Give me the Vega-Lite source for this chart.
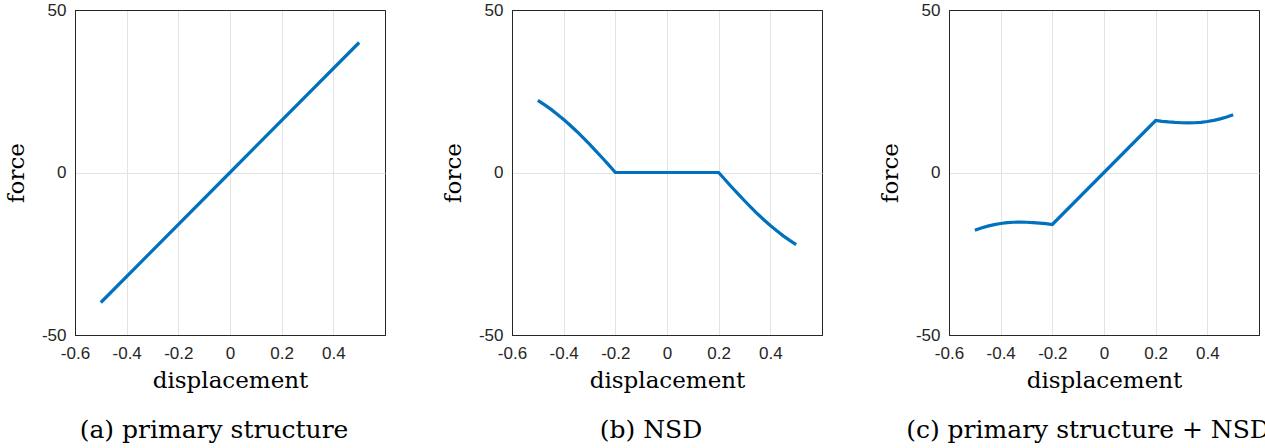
{
  "$schema": "https://vega.github.io/schema/vega-lite/v6.json",
  "autosize": {"type": "pad"},
  "padding": {"left": 4, "top": 0, "right": 0, "bottom": 0},
  "background": "white",
  "spacing": 127,
  "bounds": "flush",
  "config": {
    "view": {"stroke": "#262626", "strokeWidth": 1},
    "axis": {
      "grid": true,
      "gridWidth": 1,
      "domain": true,
      "domainColor": "#262626",
      "domainWidth": 1,
      "ticks": false,
      "tickSize": 0,
      "labelFont": "Liberation Sans",
      "labelFontSize": 17,
      "labelColor": "#262626",
      "labelFlush": false,
      "labelOverlap": false,
      "titleFont": "DejaVu Serif",
      "titleFontSize": 23,
      "titleFontWeight": "normal",
      "titleColor": "#000000"
    },
    "axisX": {"labelPadding": 10, "titlePadding": 8},
    "axisY": {"labelPadding": 9, "titlePadding": 13},
    "title": {"font": "DejaVu Serif", "fontSize": 25, "fontWeight": "normal", "color": "#000000", "anchor": "middle"}
  },
  "datasets": {
    "a": [
      {"x": -0.5, "y": -40},
      {"x": 0, "y": 0},
      {"x": 0.5, "y": 40}
    ],
    "b": [
      {"x": -0.5, "y": 22.2},
      {"x": -0.475, "y": 20.9},
      {"x": -0.45, "y": 19.5},
      {"x": -0.425, "y": 17.95},
      {"x": -0.4, "y": 16.3},
      {"x": -0.375, "y": 14.55},
      {"x": -0.35, "y": 12.7},
      {"x": -0.325, "y": 10.75},
      {"x": -0.3, "y": 8.7},
      {"x": -0.275, "y": 6.6},
      {"x": -0.25, "y": 4.45},
      {"x": -0.225, "y": 2.25},
      {"x": -0.2, "y": 0},
      {"x": 0.2, "y": 0},
      {"x": 0.225, "y": -2.25},
      {"x": 0.25, "y": -4.45},
      {"x": 0.275, "y": -6.6},
      {"x": 0.3, "y": -8.7},
      {"x": 0.325, "y": -10.75},
      {"x": 0.35, "y": -12.7},
      {"x": 0.375, "y": -14.55},
      {"x": 0.4, "y": -16.3},
      {"x": 0.425, "y": -17.95},
      {"x": 0.45, "y": -19.5},
      {"x": 0.475, "y": -20.9},
      {"x": 0.5, "y": -22.2}
    ],
    "c": [
      {"x": -0.5, "y": -17.8},
      {"x": -0.475, "y": -17.1},
      {"x": -0.45, "y": -16.5},
      {"x": -0.425, "y": -16.05},
      {"x": -0.4, "y": -15.7},
      {"x": -0.375, "y": -15.45},
      {"x": -0.35, "y": -15.3},
      {"x": -0.325, "y": -15.25},
      {"x": -0.3, "y": -15.3},
      {"x": -0.275, "y": -15.4},
      {"x": -0.25, "y": -15.55},
      {"x": -0.225, "y": -15.75},
      {"x": -0.2, "y": -16.0},
      {"x": 0, "y": 0},
      {"x": 0.2, "y": 16.0},
      {"x": 0.225, "y": 15.75},
      {"x": 0.25, "y": 15.55},
      {"x": 0.275, "y": 15.4},
      {"x": 0.3, "y": 15.3},
      {"x": 0.325, "y": 15.25},
      {"x": 0.35, "y": 15.3},
      {"x": 0.375, "y": 15.45},
      {"x": 0.4, "y": 15.7},
      {"x": 0.425, "y": 16.05},
      {"x": 0.45, "y": 16.5},
      {"x": 0.475, "y": 17.1},
      {"x": 0.5, "y": 17.8}
    ]
  },
  "hconcat": [
    {
      "width": 310,
      "height": 325,
      "data": {"name": "a"},
      "title": {"text": "(a) primary structure", "orient": "bottom", "offset": 26, "dx": -16},
      "mark": {"type": "line", "color": "#0072BD", "strokeWidth": 3.2},
      "encoding": {
        "x": {"field": "x", "type": "quantitative", "title": "displacement",
          "scale": {"domain": [-0.6, 0.6], "nice": false, "zero": false},
          "axis": {"values": [-0.6, -0.4, -0.2, 0, 0.2, 0.4], "labelExpr": "toString(datum.value)",
            "gridColor": {"condition": {"test": "datum.value <= -0.6", "value": "#262626"}, "value": "#e3e3e3"}}},
        "y": {"field": "y", "type": "quantitative", "title": "force",
          "scale": {"domain": [-50, 50], "nice": false, "zero": false},
          "axis": {"values": [-50, 0, 50], "labelExpr": "toString(datum.value)",
            "gridColor": {"condition": {"test": "datum.value != 0", "value": "#262626"}, "value": "#e3e3e3"}}}
      }
    },
    {
      "width": 310,
      "height": 325,
      "data": {"name": "b"},
      "title": {"text": "(b) NSD", "orient": "bottom", "offset": 26, "dx": -16},
      "mark": {"type": "line", "color": "#0072BD", "strokeWidth": 3.2},
      "encoding": {
        "x": {"field": "x", "type": "quantitative", "title": "displacement",
          "scale": {"domain": [-0.6, 0.6], "nice": false, "zero": false},
          "axis": {"values": [-0.6, -0.4, -0.2, 0, 0.2, 0.4], "labelExpr": "toString(datum.value)",
            "gridColor": {"condition": {"test": "datum.value <= -0.6", "value": "#262626"}, "value": "#e3e3e3"}}},
        "y": {"field": "y", "type": "quantitative", "title": "force",
          "scale": {"domain": [-50, 50], "nice": false, "zero": false},
          "axis": {"values": [-50, 0, 50], "labelExpr": "toString(datum.value)",
            "gridColor": {"condition": {"test": "datum.value != 0", "value": "#262626"}, "value": "#e3e3e3"}}}
      }
    },
    {
      "width": 310,
      "height": 325,
      "data": {"name": "c"},
      "title": {"text": "(c) primary structure + NSD", "orient": "bottom", "offset": 26, "dx": -16},
      "mark": {"type": "line", "color": "#0072BD", "strokeWidth": 3.2},
      "encoding": {
        "x": {"field": "x", "type": "quantitative", "title": "displacement",
          "scale": {"domain": [-0.6, 0.6], "nice": false, "zero": false},
          "axis": {"values": [-0.6, -0.4, -0.2, 0, 0.2, 0.4], "labelExpr": "toString(datum.value)",
            "gridColor": {"condition": {"test": "datum.value <= -0.6", "value": "#262626"}, "value": "#e3e3e3"}}},
        "y": {"field": "y", "type": "quantitative", "title": "force",
          "scale": {"domain": [-50, 50], "nice": false, "zero": false},
          "axis": {"values": [-50, 0, 50], "labelExpr": "toString(datum.value)",
            "gridColor": {"condition": {"test": "datum.value != 0", "value": "#262626"}, "value": "#e3e3e3"}}}
      }
    }
  ]
}
